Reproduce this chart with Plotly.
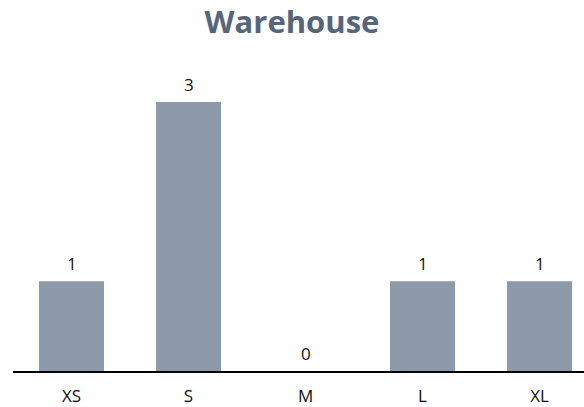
import plotly.graph_objects as go

categories = ["XS", "S", "M", "L", "XL"]
values = [1, 3, 0, 1, 1]

fig = go.Figure(go.Bar(
    x=categories, y=values,
    marker=dict(color="#8D9AAA", line=dict(width=0)),
    width=0.556,
    hoverinfo="x+y",
))

for c, v in zip(categories, values):
    fig.add_annotation(
        x=c, y=v, text=str(v), showarrow=False,
        xanchor="center", yanchor="bottom", yshift=4,
        font=dict(family="Open Sans", size=17, color="#111111"),
    )

fig.update_layout(
    width=584, height=407,
    margin=dict(l=13, r=0, t=60, b=33),
    paper_bgcolor="white", plot_bgcolor="white",
    title=dict(text="<b>Warehouse</b>", x=0.5, xanchor="center", y=0.945, yanchor="middle",
               font=dict(family="Open Sans", size=31, color="#56657A")),
    showlegend=False,
    xaxis=dict(range=[-0.5, 4.38], showline=True, linecolor="black", linewidth=1.5,
               showgrid=False, ticks="", ticklabelstandoff=9,
               tickfont=dict(family="Open Sans", size=17, color="#111111")),
    yaxis=dict(range=[0, 3.47], visible=False, showgrid=False, zeroline=False),
)

fig.write_html("out.html")
